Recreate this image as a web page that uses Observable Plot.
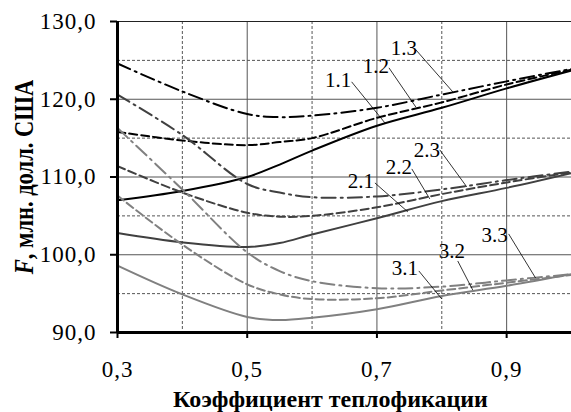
<!DOCTYPE html>
<html><head><meta charset="utf-8">
<script src="https://cdn.jsdelivr.net/npm/d3@7"></script>
<script src="https://cdn.jsdelivr.net/npm/@observablehq/plot@0.6"></script>
<style>
body{margin:0;background:#fff}
</style>
</head><body><div id="chart"></div>
<script>
// Coefficient of heat supply (x) and costs F (mln USD)
const xs  = [0.3, 0.4, 0.5, 0.55, 0.6, 0.7, 0.8, 0.9, 1.0];
const s11 = [107.0, 108.2, 110.0, 111.6, 113.4, 116.6, 118.9, 121.4, 123.7];
const s12 = [115.8, 114.7, 114.1, 114.5, 115.0, 117.6, 119.6, 121.9, 123.8];
const s13 = [124.6, 121.0, 118.1, 117.7, 117.9, 118.9, 120.6, 122.3, 123.9];
const s21 = [102.8, 101.6, 101.0, 101.5, 102.6, 104.7, 106.9, 108.6, 110.5];
const s22 = [111.4, 108.0, 105.4, 104.9, 105.0, 106.1, 107.8, 109.3, 110.6];
const s23 = [120.6, 115.4, 109.1, 108.0, 107.4, 107.5, 108.4, 109.6, 110.7];
const s31 = [98.6, 94.9, 92.0, 91.6, 91.9, 93.0, 94.7, 96.0, 97.5];
const s32 = [107.6, 101.3, 96.2, 94.9, 94.3, 94.4, 95.4, 96.4, 97.4];
const s33 = [116.3, 108.4, 100.3, 97.9, 96.6, 95.7, 95.9, 96.7, 97.5];

const seriesNames = ["1.1","1.2","1.3","2.1","2.2","2.3","3.1","3.2","3.3"];
const seriesVals  = [s11, s12, s13, s21, s22, s23, s31, s32, s33];

// Label annotations (data units)
const labelText = ["1.1","1.2","1.3","2.1","2.2","2.3","3.1","3.2","3.3"];
const labelX    = [0.640, 0.6985, 0.7415, 0.6754, 0.7338, 0.7769, 0.743, 0.8154, 0.8815];
const labelY    = [122.4, 124.3, 126.6, 109.5, 111.3, 113.5, 98.3, 100.4, 102.55];
const leadX1    = [0.661, 0.7185, 0.760, 0.6969, 0.7538, 0.7969, 0.7646, 0.8246, 0.9031];
const leadY1    = [122.24, 124.04, 126.36, 109.24, 111.04, 113.49, 97.92, 99.2, 102.68];
const leadX2    = [0.7123, 0.760, 0.817, 0.7477, 0.7815, 0.8385, 0.800, 0.8477, 0.9446];
const leadY2    = [116.96, 119.0, 120.95, 105.51, 107.18, 108.73, 94.31, 95.47, 97.01];

const xTicks = [0.3, 0.5, 0.7, 0.9];
const yTicks = [90, 100, 110, 120, 130];
const gridSolidX = [0.5, 0.7, 0.9];
const gridDashX  = [0.4, 0.6, 0.8];
const gridSolidY = [100, 110, 120];
const gridDashY  = [95, 105, 115, 125];
const xTitle = ["Коэффициент теплофикации"];

const groupColor = {"1": "#000000", "2": "#404040", "3": "#808080"};
const styleDash  = {"1": null, "2": "8,4", "3": "14,5,2,5"};
const serif = "Liberation Serif";

const rows = [];
seriesNames.forEach((n, i) => xs.forEach((x, j) => rows.push({series: n, x, y: seriesVals[i][j]})));

const labels = labelText.map((t, i) => ({t, x: labelX[i], y: labelY[i]}));
const leaders = labelText.map((t, i) => ({x1: leadX1[i], y1: leadY1[i], x2: leadX2[i], y2: leadY2[i]}));

const lineMarks = seriesNames.map(n => Plot.line(rows.filter(r => r.series === n), {
  x: "x", y: "y", curve: "catmull-rom",
  stroke: groupColor[n[0]], strokeWidth: 2,
  strokeDasharray: styleDash[n[2]]
}));

const fmt = d => d.toFixed(1).replace(".", ",");

const chart = Plot.plot({
  width: 571, height: 412,
  marginLeft: 117, marginRight: 0, marginTop: 21, marginBottom: 80,
  style: "font-family: 'Liberation Serif', serif; font-size: 22px; background: #fff; overflow: visible;",
  x: {domain: [0.3, 1.0]},
  y: {domain: [90, 130]},
  marks: [
    Plot.ruleX(gridDashX, {stroke: "#555", strokeWidth: 1, strokeDasharray: "3,2"}),
    Plot.ruleY(gridDashY, {stroke: "#555", strokeWidth: 1, strokeDasharray: "3,2"}),
    Plot.ruleX(gridSolidX, {stroke: "#555", strokeWidth: 1}),
    Plot.ruleY(gridSolidY, {stroke: "#555", strokeWidth: 1}),
    Plot.ruleY([130], {stroke: "#222", strokeWidth: 1.2}),
    ...lineMarks,
    Plot.link(leaders, {x1: "x1", y1: "y1", x2: "x2", y2: "y2", stroke: "#000", strokeWidth: 0.8}),
    Plot.text(labels, {x: "x", y: "y", text: "t", fontSize: 21, fontFamily: serif, fill: "#000", textAnchor: "middle"}),
    Plot.axisY({ticks: yTicks, tickFormat: fmt, tickSize: 7, tickPadding: 14, strokeWidth: 2, label: null, fontSize: 23, fontFamily: serif, fill: "#000"}),
    Plot.axisX({ticks: xTicks, tickFormat: fmt, tickSize: 6, tickPadding: 22, strokeWidth: 2, label: null, fontSize: 23, fontFamily: serif, fill: "#000"}),
    Plot.text(xTitle, {frameAnchor: "bottom", dx: -14, dy: 74, text: d => d, fontSize: 24, fontFamily: serif, fontWeight: "bold", fill: "#000", lineAnchor: "bottom"}),
    Plot.ruleX([0.3], {stroke: "#000", strokeWidth: 3}),
    Plot.ruleY([90], {stroke: "#000", strokeWidth: 3})
  ]
});

const svg = d3.select(chart);
svg.selectAll('g[aria-label="y-axis tick label"], g[aria-label="x-axis tick label"]').attr("letter-spacing", "1px");
const yt = svg.append("text")
  .attr("transform", "translate(33,177) scale(1.25,1) rotate(-90)")
  .attr("text-anchor", "middle")
  .attr("font-family", serif)
  .attr("font-weight", "bold")
  .attr("font-size", 22.5)
  .attr("fill", "#000");
yt.append("tspan").attr("font-style", "italic").text("F");
yt.append("tspan").text(", млн. долл. США");

document.getElementById("chart").appendChild(chart);
</script>
</body></html>
